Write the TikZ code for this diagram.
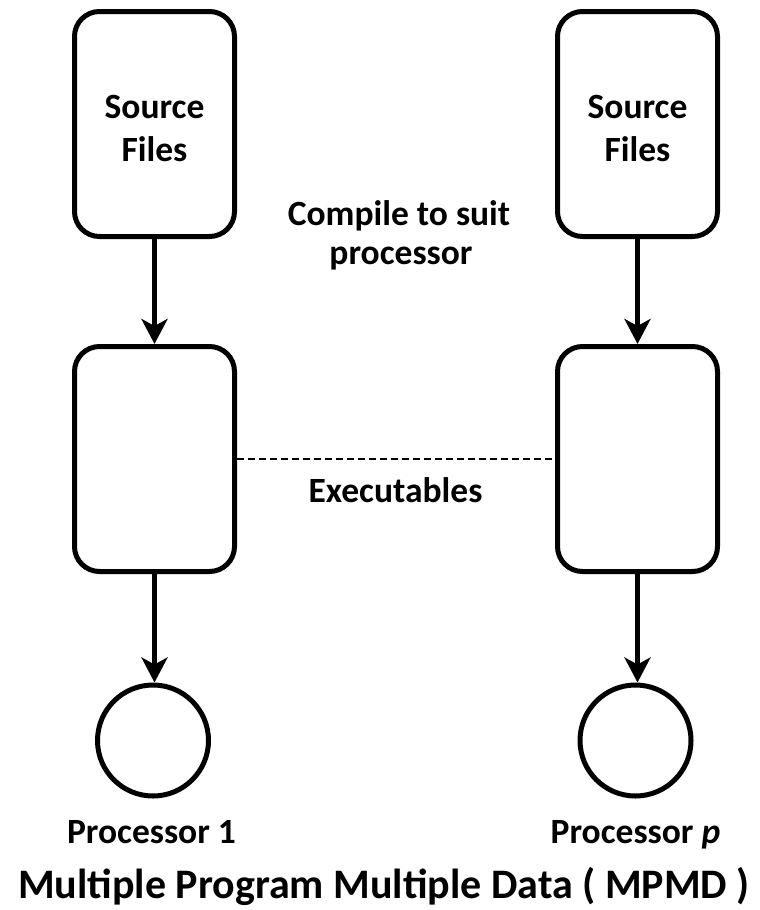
\documentclass[tikz,border=0pt]{standalone}
\usepackage{fontspec}
\setmainfont{Carlito}
\usetikzlibrary{arrows.meta}
\begin{document}
\begin{tikzpicture}[x=1pt,y=-1pt,
  box/.style={draw,line width=5pt,rounded corners=25pt,minimum width=160pt,minimum height=225pt,inner sep=0pt},
  proc/.style={draw,circle,line width=5pt,minimum size=111pt,inner sep=0pt},
  lbl/.style={anchor=base,inner sep=0pt,font=\bfseries\fontsize{35.5}{38}\selectfont},
  arr/.style={line width=5pt,-{Stealth[length=25pt,width=26pt,inset=7pt]}}]
\useasboundingbox (0,0) rectangle (760,910);
\node[box] (s1) at (154.5,124) {};
\node[box] (s2) at (637.5,124) {};
\node[box] (e1) at (154.5,459) {};
\node[box] (e2) at (637.5,459) {};
\node[proc] (p1) at (153,740.5) {};
\node[proc] (p2) at (635.5,740.5) {};
\node[lbl] (s1a) at (154.5,118) {Source};
\node[lbl] (s1b) at (154.5,161) {Files};
\node[lbl] (s2a) at (637.5,118) {Source};
\node[lbl] (s2b) at (637.5,161) {Files};
\draw[arr] (s1) -- (e1);
\draw[arr] (s2) -- (e2);
\draw[arr] (e1.south) -- (e1.south |- p1.north);
\draw[arr] (e2.south) -- (e2.south |- p2.north);
\draw[line width=1.5pt,dash pattern=on 7pt off 4pt] (e1.east) -- (e2.west);
\node[lbl] (c1) at (399,225) {Compile to suit};
\node[lbl] (c2) at (401,264) {processor};
\node[lbl] (x) at (395.5,502) {Executables};
\node[lbl] (l1) at (151.5,843) {Processor 1};
\node[lbl] (l2) at (635.5,843) {Processor \textit{p}};
\node[lbl,font=\bfseries\fontsize{42}{46}\selectfont] (t) at (384,898) {Multiple Program Multiple Data ( MPMD )};
\end{tikzpicture}
\end{document}
